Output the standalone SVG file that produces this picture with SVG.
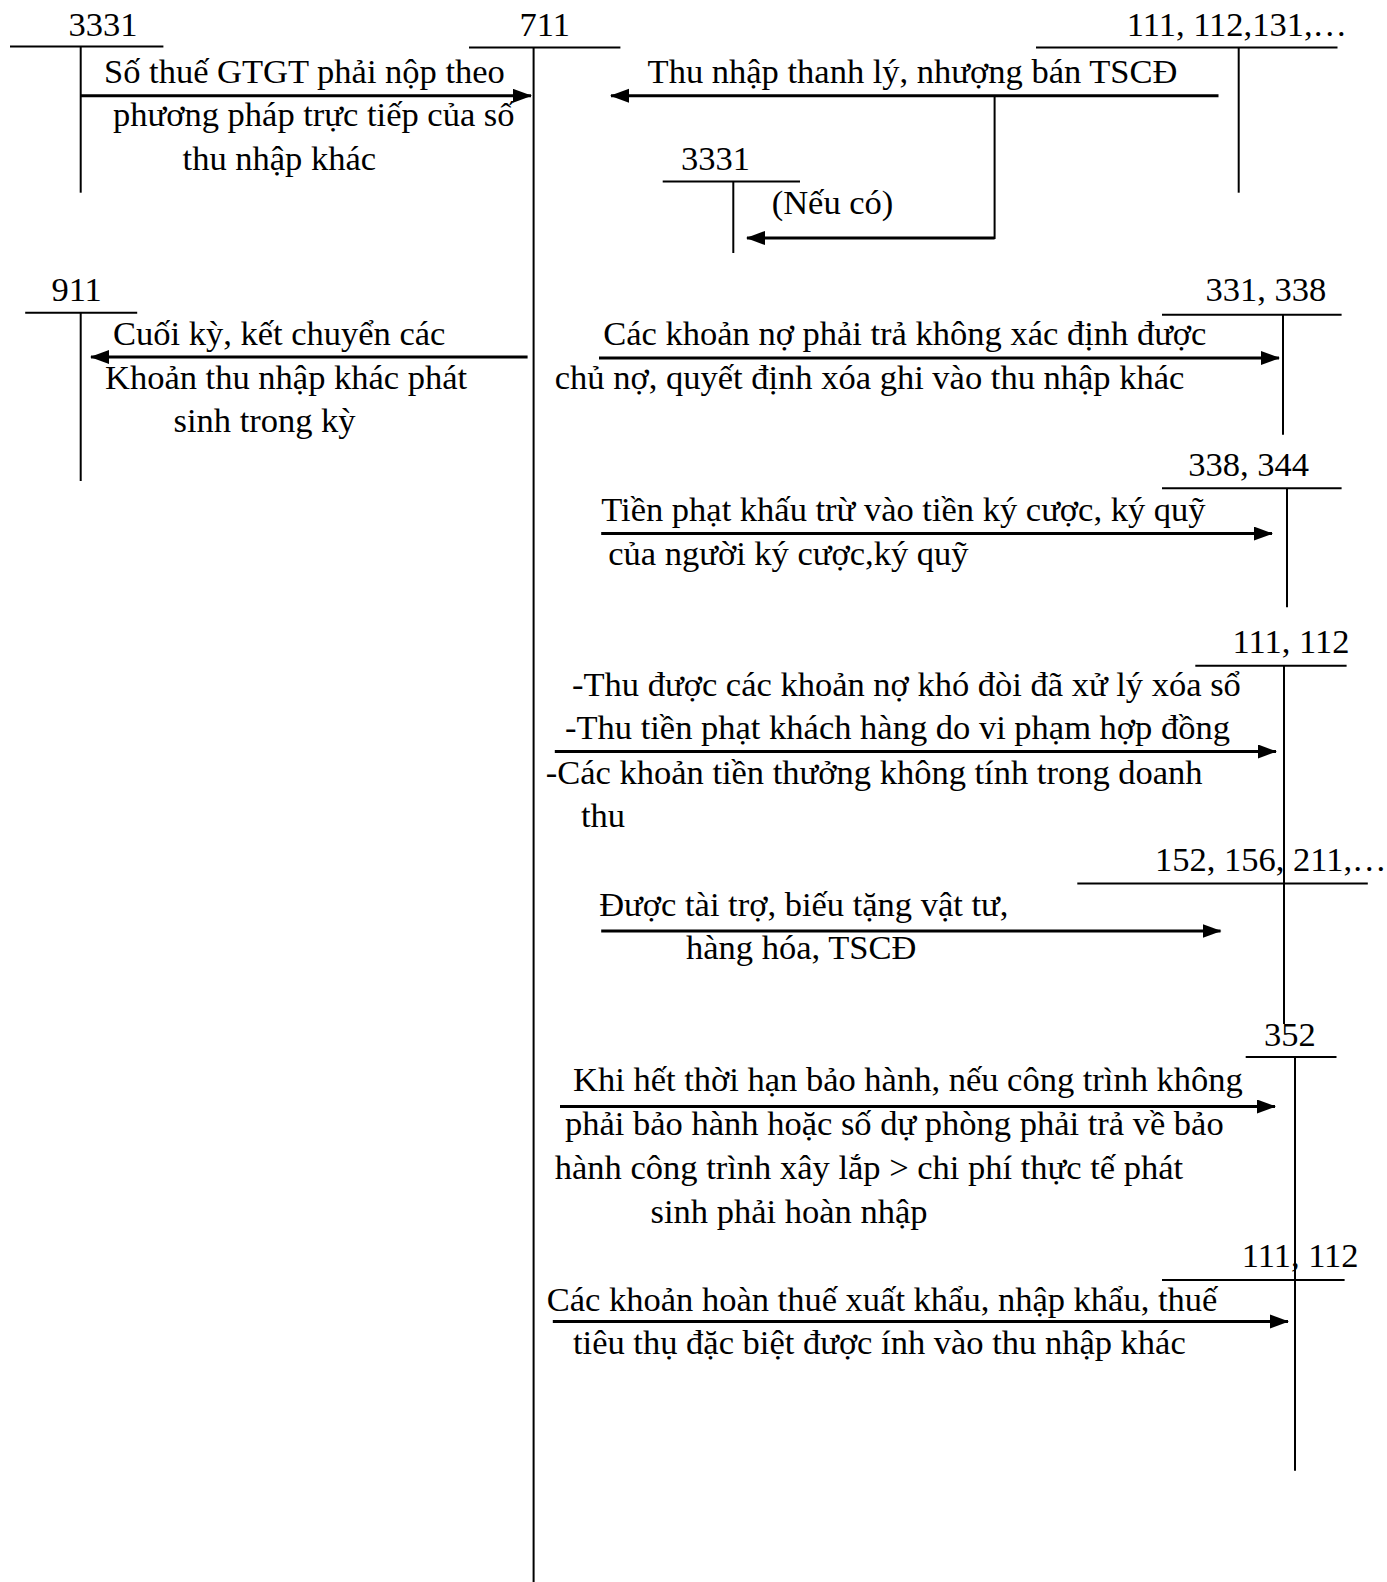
<svg xmlns="http://www.w3.org/2000/svg" width="1387" height="1582" viewBox="0 0 1387 1582">
<style>
  text { font-family: "Liberation Serif", "Times New Roman", serif; font-size: 34.5px; fill: #000; }
  .acc { stroke: #000; stroke-width: 2; fill: none; }
  .arr { stroke: #000; stroke-width: 3; fill: none; }
  .thin { stroke: #000; stroke-width: 2; fill: none; }
</style>
<defs>
  <marker id="ah" markerUnits="userSpaceOnUse" markerWidth="20" markerHeight="16" refX="18" refY="7" orient="auto">
    <path d="M0,0 L19,7 L0,14 z" fill="#000"/>
  </marker>
</defs>
<rect width="1387" height="1582" fill="#fff"/>

<g id="acc-3331-top">
  <text x="68.6" y="36.3">3331</text>
  <line class="acc" x1="10" y1="46.4" x2="163.4" y2="46.4"/>
  <line class="acc" x1="80.7" y1="46.4" x2="80.7" y2="192.7"/>
</g>
<g id="acc-711">
  <text x="544.7" y="36.3" text-anchor="middle">711</text>
  <line class="acc" x1="469" y1="47.4" x2="620.4" y2="47.4"/>
  <line class="acc" x1="533.6" y1="47.4" x2="533.6" y2="1582"/>
</g>
<g id="acc-111-112-131">
  <text x="1126.7" y="36.3">111, 112,131,…</text>
  <line class="acc" x1="1036" y1="47.4" x2="1337.5" y2="47.4"/>
  <line class="acc" x1="1238.7" y1="47.4" x2="1238.7" y2="192.7"/>
</g>
<g id="acc-3331-small">
  <text x="681" y="169.5">3331</text>
  <line class="acc" x1="662.7" y1="181.6" x2="800" y2="181.6"/>
  <line class="acc" x1="733.3" y1="181.6" x2="733.3" y2="253"/>
</g>
<g id="acc-911">
  <text x="51.4" y="300.6">911</text>
  <line class="acc" x1="25.2" y1="312.7" x2="137.2" y2="312.7"/>
  <line class="acc" x1="80.7" y1="312.7" x2="80.7" y2="481"/>
</g>
<g id="acc-331-338">
  <text x="1205.4" y="300.6">331, 338</text>
  <line class="acc" x1="1162" y1="314.7" x2="1341.6" y2="314.7"/>
  <line class="acc" x1="1283" y1="314.7" x2="1283" y2="434.7"/>
</g>
<g id="acc-338-344">
  <text x="1188.2" y="476">338, 344</text>
  <line class="acc" x1="1162" y1="488.2" x2="1341.6" y2="488.2"/>
  <line class="acc" x1="1287" y1="488.2" x2="1287" y2="607.2"/>
</g>
<g id="acc-111-112-a">
  <text x="1232.6" y="652.6">111, 112</text>
  <line class="acc" x1="1195.3" y1="665.7" x2="1346.6" y2="665.7"/>
  <line class="acc" x1="1284" y1="665.7" x2="1284" y2="1024"/>
</g>
<g id="acc-152-156-211">
  <text x="1155" y="870.5">152, 156, 211,…</text>
  <line class="acc" x1="1077.3" y1="883.6" x2="1367.8" y2="883.6"/>
</g>
<g id="acc-352">
  <text x="1264" y="1046">352</text>
  <line class="acc" x1="1245.7" y1="1057" x2="1336.5" y2="1057"/>
  <line class="acc" x1="1295" y1="1057" x2="1295" y2="1470.7"/>
</g>
<g id="acc-111-112-b">
  <text x="1241.7" y="1267">111, 112</text>
  <line class="acc" x1="1162" y1="1280" x2="1344.6" y2="1280"/>
</g>

<g id="connectors">
  <g id="e-3331-711">
    <line class="arr" x1="80.7" y1="95.8" x2="531" y2="95.8" marker-end="url(#ah)"/>
    <text x="104" y="82.7">Số thuế GTGT phải nộp theo</text>
    <text x="113" y="126">phương pháp trực tiếp của số</text>
    <text x="182.6" y="169.5">thu nhập khác</text>
  </g>
  <g id="e-111-711">
    <line class="arr" x1="1218.5" y1="95.8" x2="611" y2="95.8" marker-end="url(#ah)"/>
    <text x="647.6" y="82.7">Thu nhập thanh lý, nhượng bán TSCĐ</text>
    <line class="thin" x1="994.6" y1="95.8" x2="994.6" y2="239"/>
    <line class="arr" x1="994.6" y1="238" x2="747" y2="238" marker-end="url(#ah)"/>
    <text x="771.7" y="213.8">(Nếu có)</text>
  </g>
  <g id="e-711-911">
    <line class="arr" x1="527.6" y1="357" x2="91" y2="357" marker-end="url(#ah)"/>
    <text x="113" y="345">Cuối kỳ, kết chuyển các</text>
    <text x="105" y="389.4">Khoản thu nhập khác phát</text>
    <text x="173.5" y="431.7">sinh trong kỳ</text>
  </g>
  <g id="e-331-338">
    <line class="arr" x1="599" y1="358" x2="1279" y2="358" marker-end="url(#ah)"/>
    <text x="603.2" y="345">Các khoản nợ phải trả không xác định được</text>
    <text x="554.8" y="389.4">chủ nợ, quyết định xóa ghi vào thu nhập khác</text>
  </g>
  <g id="e-338-344">
    <line class="arr" x1="601.2" y1="533.6" x2="1272" y2="533.6" marker-end="url(#ah)"/>
    <text x="601.2" y="520.5">Tiền phạt khấu trừ vào tiền ký cược, ký quỹ</text>
    <text x="608.2" y="565">của người ký cược,ký quỹ</text>
  </g>
  <g id="e-111-112-a">
    <line class="arr" x1="554.8" y1="751.5" x2="1276" y2="751.5" marker-end="url(#ah)"/>
    <text x="572" y="696">-Thu được các khoản nợ khó đòi đã xử lý xóa sổ</text>
    <text x="565" y="739.4">-Thu tiền phạt khách hàng do vi phạm hợp đồng</text>
    <text x="545.7" y="783.8">-Các khoản tiền thưởng không tính trong doanh</text>
    <text x="581" y="827">thu</text>
  </g>
  <g id="e-152-156-211">
    <line class="arr" x1="601.2" y1="931" x2="1220.5" y2="931" marker-end="url(#ah)"/>
    <text x="599.2" y="916">Được tài trợ, biếu tặng vật tư,</text>
    <text x="686" y="959.3">hàng hóa, TSCĐ</text>
  </g>
  <g id="e-352">
    <line class="arr" x1="560" y1="1106.5" x2="1275" y2="1106.5" marker-end="url(#ah)"/>
    <text x="573" y="1091.4">Khi hết thời hạn bảo hành, nếu công trình không</text>
    <text x="565" y="1134.8">phải bảo hành hoặc số dự phòng phải trả về bảo</text>
    <text x="554.8" y="1179">hành công trình xây lắp &gt; chi phí thực tế phát</text>
    <text x="650.6" y="1222.5">sinh phải hoàn nhập</text>
  </g>
  <g id="e-111-112-b">
    <line class="arr" x1="552.8" y1="1321.4" x2="1288" y2="1321.4" marker-end="url(#ah)"/>
    <text x="546.7" y="1311.3">Các khoản hoàn thuế xuất khẩu, nhập khẩu, thuế</text>
    <text x="573" y="1353.7">tiêu thụ đặc biệt được ính vào thu nhập khác</text>
  </g>
</g>
</svg>
